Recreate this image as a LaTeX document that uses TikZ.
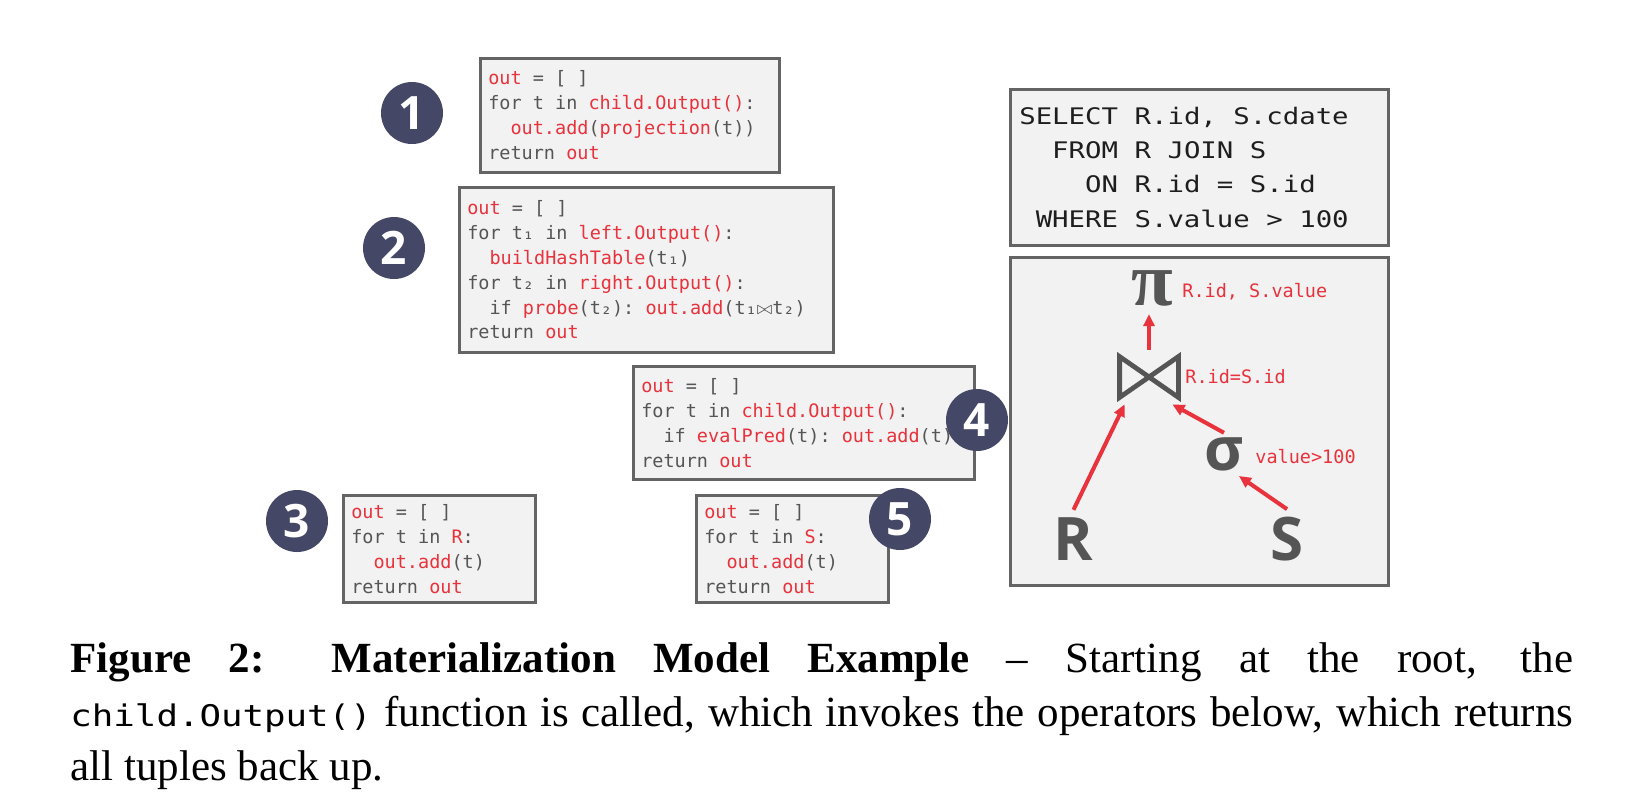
\documentclass[tikz,border=0pt]{standalone}
\usepackage{fontspec}
\setmainfont{Liberation Serif}
\setmonofont[FakeStretch=1.2,Scale=0.693]{DejaVu Sans Mono}
\newfontfamily\codefont{DejaVu Sans Mono}
\newfontfamily\sqlfont[FakeStretch=1.2]{DejaVu Sans Mono}
\newfontfamily\opensans{Open Sans}
\usetikzlibrary{positioning,arrows.meta,calc}
\definecolor{hot}{RGB}{232,50,60}
\definecolor{codegray}{RGB}{85,85,85}
\definecolor{sqltext}{RGB}{30,30,30}
\definecolor{boxline}{RGB}{100,100,100}
\definecolor{boxfill}{RGB}{242,242,242}
\definecolor{badgec}{RGB}{69,71,102}
\definecolor{opgray}{RGB}{85,85,85}
\newcommand{\kw}[1]{\textcolor{hot}{#1}}
\newcommand{\indt}{\hphantom{xx}}
% one full character cell per blank (ragged nodes shrink blanks otherwise)
\newcommand{\fixspace}[1]{\spaceskip=#1em\relax\xspaceskip=#1em\relax}
\tikzset{
  box/.style={draw=boxline, line width=1.3pt, fill=boxfill},
  codebox/.style={box, anchor=north west, align=left, inner xsep=4pt,
                  inner ysep=0pt, text=codegray,
                  font=\codefont\fontsize{9.25}{12.45}\selectfont,
                  execute at begin node=\fixspace{0.602}},
  sqlbox/.style={box, anchor=north west, align=left, inner xsep=4.5pt,
                 text=sqltext,
                 font=\sqlfont\fontsize{11.4}{17.15}\selectfont,
                 execute at begin node=\fixspace{0.7224}},
  planbox/.style={box, anchor=north west},
  badge/.style={circle, fill=badgec, text=white, minimum size=31pt,
                inner sep=0pt, font=\opensans\bfseries\fontsize{23}{23}\selectfont},
  relname/.style={anchor=base, text=opgray, inner sep=3.5pt,
                  font=\opensans\bfseries\fontsize{30}{30}\selectfont},
  opsym/.style={anchor=base, text=opgray, inner sep=0pt},
  oplbl/.style={anchor=base west, text=hot, inner sep=0pt,
                font=\codefont\fontsize{9.25}{10}\selectfont},
  flow/.style={-{Triangle[length=6pt, width=5.5pt]}, line width=2pt, hot},
  caption/.style={anchor=base west, inner sep=0pt, text width=751.5pt,
                  align=justify, font=\fontsize{21.5}{27}\selectfont},
}
\begin{document}
\begin{tikzpicture}[x=0.5pt, y=-0.5pt]
\useasboundingbox (0,0) rectangle (1646,811);

% ---------------------------------------------------------------- operator code
\node[codebox, text width=141.5pt, minimum height=57pt] (proj) at (479,57)
  {\kw{out} = [ ]\\
   for t in \kw{child.Output()}:\\
   \indt\kw{out.add}(\kw{projection}(t))\\
   return \kw{out}};

\node[codebox, text width=179pt, minimum height=82.5pt] (hjoin) at (458,186)
  {\kw{out} = [ ]\\
   for t₁ in \kw{left.Output()}:\\
   \indt\kw{buildHashTable}(t₁)\\
   for t₂ in \kw{right.Output()}:\\
   \indt if \kw{probe}(t₂): \kw{out.add}(t₁$\bowtie$t₂)\\
   return \kw{out}};

\node[codebox, text width=162.5pt, minimum height=56.5pt] (filt) at (632,365)
  {\kw{out} = [ ]\\
   for t in \kw{child.Output()}:\\
   \indt if \kw{evalPred}(t): \kw{out.add}(t)\\
   return \kw{out}};

\node[codebox, text width=88pt, minimum height=53.5pt] (scanR) at (342,494)
  {\kw{out} = [ ]\\
   for t in \kw{R}:\\
   \indt\kw{out.add}(t)\\
   return \kw{out}};

\node[codebox, text width=88pt, minimum height=53.5pt] (scanS) at (695,494)
  {\kw{out} = [ ]\\
   for t in \kw{S}:\\
   \indt\kw{out.add}(t)\\
   return \kw{out}};

% ---------------------------------------------------------------- step badges
\node[badge] (b1) at (412,113) {1};
\node[badge] (b2) at (394,248) {2};
\node[badge] (b3) at (297,521) {3};
\node[badge] (b4) at (977,420) {4};
\node[badge] (b5) at (900,519) {5};

% ---------------------------------------------------------------- query
\node[sqlbox, text width=180pt, minimum height=78pt] (query) at (1009,88)
  {SELECT R.id, S.cdate\\
   \phantom{SE}FROM R JOIN S\\
   \phantom{SELE}ON R.id = S.id\\
   \phantom{S}WHERE S.value > 100};

% ---------------------------------------------------------------- plan tree
\node[planbox, minimum width=189pt, minimum height=164pt] (plan) at (1009,256) {};

\node[opsym, inner sep=4pt, font=\bfseries\fontsize{38}{38}\selectfont]
  (pinode) at (1152,305) {π};
\node[oplbl] at (1182,297) {R.id, S.value};

\node[inner sep=0pt, minimum width=29pt, minimum height=20pt] (join) at (1149,377) {};
\draw[opgray, line width=2.4pt] (join.south west) -- (join.north west)
  -- (join.south east) -- (join.north east) -- cycle;
\node[oplbl] at (1185,383) {R.id=S.id};

\node[opsym, inner sep=2pt, font=\opensans\bfseries\fontsize{30}{30}\selectfont]
  (sigma) at (1224,470) {σ};
\node[oplbl] at (1255,463) {value>100};

\node[relname] (relR) at (1073.5,560) {R};
\node[relname] (relS) at (1287,560) {S};

\draw[flow] ($(join.north)+(0,-7)$) -- (join.north |- pinode.south);
\draw[flow] (relR.north) -- ($(join.south west)+(5,7)$);
\draw[flow] (sigma.north) -- ($(join.south east)+(-6,7)$);
\draw[flow] (relS.north) -- ($(sigma.south east)+(-9,1)$);

% ---------------------------------------------------------------- caption
\node[caption] (cap) at (70,672)
  {\tolerance=10000\hbadness=10000
   \textbf{Figure 2: Materialization Model Example} -- Starting at the root, the\linebreak
   \texttt{child.Output()} function is called, which invokes the operators below, which returns\linebreak
   all tuples back up.};

\end{tikzpicture}
\end{document}
